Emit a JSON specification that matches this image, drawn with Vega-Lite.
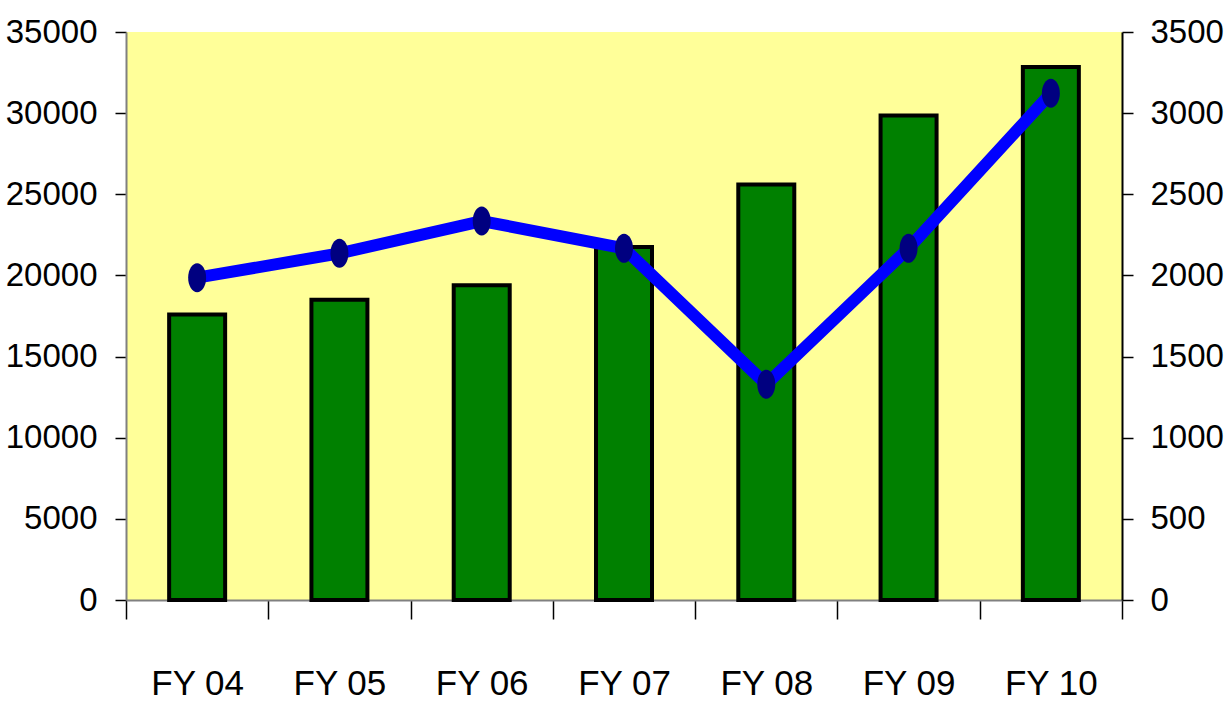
{
  "$schema": "https://vega.github.io/schema/vega-lite/v6.json",
  "autosize": "none",
  "width": 996,
  "height": 568,
  "padding": {"left": 126, "top": 32, "right": 106, "bottom": 114},
  "background": "white",
  "view": {"fill": "#ffff99", "stroke": null},
  "config": {
    "axis": {"labelFont": "Liberation Sans", "labelFontSize": 33, "labelColor": "black", "grid": false, "tickColor": "black", "tickWidth": 1.5, "domainWidth": 2}
  },
  "data": {"values": [
    {"year": "FY 04", "bar": 17600, "line": 1986},
    {"year": "FY 05", "bar": 18500, "line": 2136},
    {"year": "FY 06", "bar": 19400, "line": 2335},
    {"year": "FY 07", "bar": 21750, "line": 2167},
    {"year": "FY 08", "bar": 25600, "line": 1329},
    {"year": "FY 09", "bar": 29850, "line": 2167},
    {"year": "FY 10", "bar": 32850, "line": 3122}
  ]},
  "encoding": {
    "x": {"field": "year", "type": "nominal", "title": null, "sort": null,
      "scale": {"paddingInner": 0, "paddingOuter": 0},
      "axis": {"labelAngle": 0, "tickBand": "extent", "tickSize": 19, "labelPadding": 64, "labelFontSize": 35, "domainColor": "#808080", "labelBaseline": "middle"}}
  },
  "layer": [
    {
      "mark": {"type": "bar", "fill": "#008000", "stroke": "black", "strokeWidth": 4, "size": 56},
      "encoding": {
        "y": {"field": "bar", "type": "quantitative", "title": null,
          "scale": {"domain": [0, 35000], "nice": false},
          "axis": {"values": [0, 5000, 10000, 15000, 20000, 25000, 30000, 35000], "format": "d", "tickSize": 11, "labelPadding": 18, "domainColor": "#808080", "labelFlush": false}}
      }
    },
    {
      "layer": [
        {"mark": {"type": "line", "color": "#0000ff", "strokeWidth": 12}},
        {"mark": {"type": "point", "shape": "M 0 -1 A 0.62 1 0 1 1 0 1 A 0.62 1 0 1 1 0 -1 Z", "filled": true, "fill": "#000080", "opacity": 1, "size": 841, "strokeWidth": 0}}
      ],
      "encoding": {
        "y": {"field": "line", "type": "quantitative", "title": null,
          "scale": {"domain": [0, 3500], "nice": false},
          "axis": {"orient": "right", "values": [0, 500, 1000, 1500, 2000, 2500, 3000, 3500], "format": "d", "tickSize": 11, "labelPadding": 17, "domainColor": "black", "labelFlush": false}}
      }
    }
  ],
  "resolve": {"scale": {"y": "independent"}}
}
